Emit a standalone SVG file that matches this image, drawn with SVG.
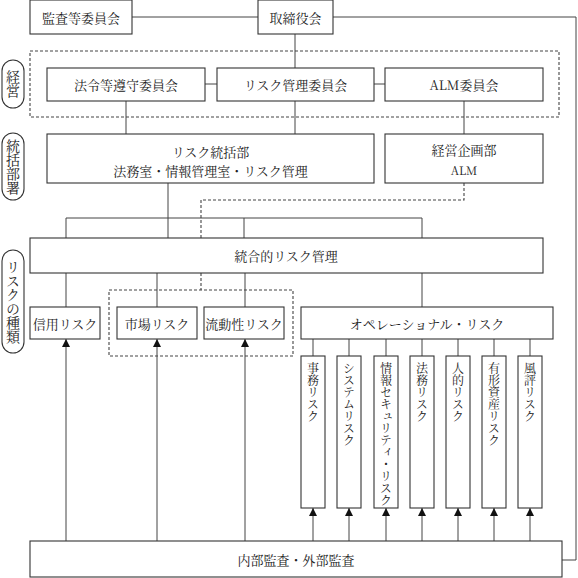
<svg xmlns="http://www.w3.org/2000/svg" width="578" height="578" viewBox="0 0 578 578">
<style>
.b{fill:#fff;stroke:#333;stroke-width:1.1}
.c{fill:none;stroke:#444;stroke-width:1}
.d{fill:none;stroke:#444;stroke-width:1.1;stroke-dasharray:3 2}
.t{font-family:"Noto Serif CJK JP","Noto Sans CJK JP","Noto Sans",sans-serif;font-size:13px;fill:#222;text-anchor:middle;dominant-baseline:central}
.v{font-family:"Noto Serif CJK JP","Noto Sans CJK JP","Noto Sans",sans-serif;font-size:12px;fill:#222;writing-mode:vertical-rl}
.p{font-family:"Noto Serif CJK JP","Noto Sans CJK JP","Noto Sans",sans-serif;font-size:14px;fill:#222;writing-mode:vertical-rl;text-anchor:middle}
</style>
<defs>
<marker id="ah" viewBox="0 0 8 8" refX="8" refY="4" markerWidth="8" markerHeight="8" markerUnits="userSpaceOnUse" orient="auto">
<path d="M0,0 L8,4 L0,8 Z" fill="#111"/>
</marker>
</defs>

<!-- dashed group boxes -->
<rect class="d" x="30" y="51" width="529" height="66"/>
<rect class="d" x="109" y="290" width="184" height="66"/>

<g id="connectors">
<path class="c" d="M132,17 H258"/>
<path class="c" d="M333,17 H576 V560 H562"/>
<path class="c" d="M295,34 V68"/>
<path class="c" d="M205,84 H217 M374,84 H385"/>
<path class="c" d="M126,101 V134 M295,101 V134 M464,101 V134"/>
<path class="c" d="M168,183 V218 M66,218 H422 M66,218 V238 M168,218 V238 M244,218 V238 M422,218 V238"/>
<path class="d" d="M464,183 V200 H201 V238 M201,273 V290"/>
<path class="c" d="M66,273 V307 M157,273 V307 M245,273 V307 M422,273 V307"/>
<path class="c" d="M313,339 V356 M349,339 V356 M386,339 V356 M422,339 V356 M458,339 V356 M494,339 V356 M530,339 V356"/>
<path class="c" marker-end="url(#ah)" d="M66,541 V339"/>
<path class="c" marker-end="url(#ah)" d="M157,541 V339"/>
<path class="c" marker-end="url(#ah)" d="M245,541 V339"/>
<path class="c" marker-end="url(#ah)" d="M313,541 V508"/>
<path class="c" marker-end="url(#ah)" d="M349,541 V508"/>
<path class="c" marker-end="url(#ah)" d="M386,541 V508"/>
<path class="c" marker-end="url(#ah)" d="M422,541 V508"/>
<path class="c" marker-end="url(#ah)" d="M458,541 V508"/>
<path class="c" marker-end="url(#ah)" d="M494,541 V508"/>
<path class="c" marker-end="url(#ah)" d="M530,541 V508"/>
</g>

<!-- side labels -->
<g id="lbl-keiei"><rect class="b" x="2" y="60" width="22" height="48" rx="11"/><text class="p" x="13" y="84">経営</text></g>
<g id="lbl-toukatsu"><rect class="b" x="2" y="133" width="22" height="67" rx="11"/><text class="p" x="13" y="166.5">統括部署</text></g>
<g id="lbl-shurui"><rect class="b" x="2" y="250" width="22" height="103" rx="11"/><text class="p" x="13" y="301.5">リスクの種類</text></g>

<g id="kansa"><rect class="b" x="30" y="0" width="102" height="34"/><text class="t" x="81" y="17">監査等委員会</text></g>
<g id="torishimari"><rect class="b" x="258" y="0" width="75" height="34"/><text class="t" x="295.5" y="17">取締役会</text></g>

<g id="hourei"><rect class="b" x="47" y="68" width="158" height="33"/><text class="t" x="126" y="84.5">法令等遵守委員会</text></g>
<g id="riskkanri"><rect class="b" x="217" y="68" width="157" height="33"/><text class="t" x="295.5" y="84.5">リスク管理委員会</text></g>
<g id="alm"><rect class="b" x="385" y="68" width="158" height="33"/><text class="t" x="464" y="84.5">ALM委員会</text></g>

<g id="toukatsubu"><rect class="b" x="47" y="134" width="327" height="49"/><text class="t" x="210.5" y="151">リスク統括部</text><text class="t" x="210.5" y="170">法務室・情報管理室・リスク管理</text></g>
<g id="kikaku"><rect class="b" x="385" y="134" width="158" height="49"/><text class="t" x="464" y="149">経営企画部</text><text class="t" x="464" y="170" style="font-size:11.5px">ALM</text></g>

<g id="tougou"><rect class="b" x="30" y="238" width="513" height="35"/><text class="t" x="286" y="255.5">統合的リスク管理</text></g>

<g id="shinyou"><rect class="b" x="30" y="307" width="70" height="32"/><text class="t" x="65" y="323">信用リスク</text></g>
<g id="shijou"><rect class="b" x="117" y="307" width="80" height="32"/><text class="t" x="157" y="323">市場リスク</text></g>
<g id="ryudou"><rect class="b" x="204" y="307" width="80" height="32"/><text class="t" x="244" y="323">流動性リスク</text></g>
<g id="operational"><rect class="b" x="301" y="307" width="252" height="32"/><text class="t" x="427" y="323">オペレーショナル・リスク</text></g>

<g id="jimu"><rect class="b" x="301" y="356" width="24" height="152"/><text class="v" x="313" y="362">事務リスク</text></g>
<g id="system"><rect class="b" x="337" y="356" width="24" height="152"/><text class="v" x="349" y="362">システムリスク</text></g>
<g id="joho"><rect class="b" x="374" y="356" width="24" height="152"/><text class="v" x="386" y="362">情報セキュリティ・リスク</text></g>
<g id="houmu"><rect class="b" x="410" y="356" width="24" height="152"/><text class="v" x="422" y="362">法務リスク</text></g>
<g id="jinteki"><rect class="b" x="446" y="356" width="24" height="152"/><text class="v" x="458" y="362">人的リスク</text></g>
<g id="yukei"><rect class="b" x="482" y="356" width="24" height="152"/><text class="v" x="494" y="362">有形資産リスク</text></g>
<g id="fuhyou"><rect class="b" x="518" y="356" width="24" height="152"/><text class="v" x="530" y="362">風評リスク</text></g>

<g id="naibu"><rect class="b" x="30" y="541" width="532" height="36"/><text class="t" x="296" y="559">内部監査・外部監査</text></g>
</svg>
